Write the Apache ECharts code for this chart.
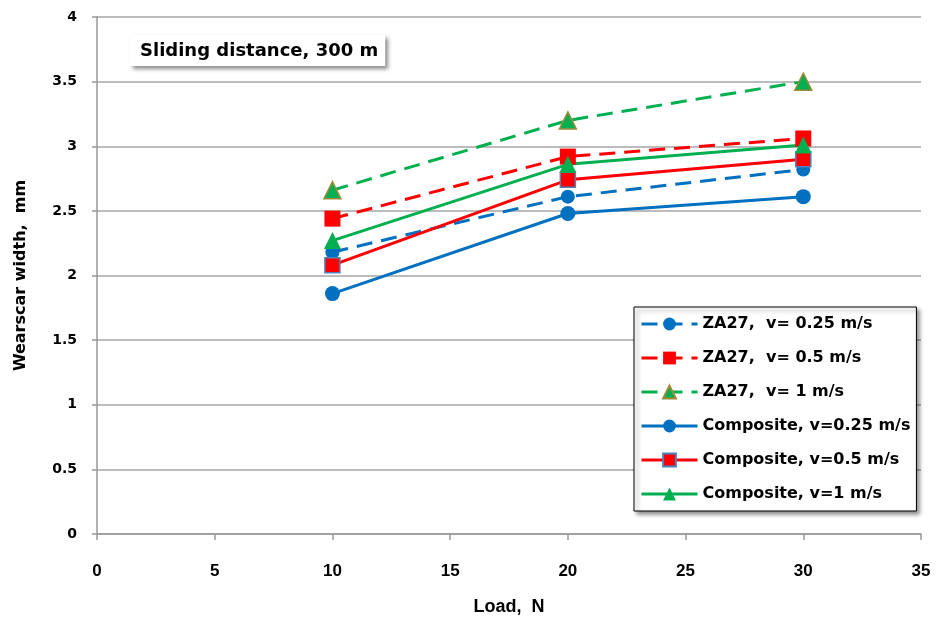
<!DOCTYPE html>
<html><head><meta charset="utf-8">
<script src="https://cdn.jsdelivr.net/npm/echarts@6/dist/echarts.min.js"></script>
<style>html,body{margin:0;padding:0;background:#fff}#c{width:936px;height:625px}</style>
</head><body><div id="c"></div>
<script>
const loads = [10, 20, 30];
const seriesNames = ['ZA27,  v= 0.25 m/s','ZA27,  v= 0.5 m/s','ZA27,  v= 1 m/s','Composite, v=0.25 m/s','Composite, v=0.5 m/s','Composite, v=1 m/s'];
const za27_025 = [2.18, 2.61, 2.82];
const za27_05 = [2.44, 2.92, 3.06];
const za27_1 = [2.66, 3.20, 3.50];
const comp_025 = [1.86, 2.48, 2.61];
const comp_05 = [2.08, 2.74, 2.90];
const comp_1 = [2.27, 2.86, 3.01];
const xTicks = [0,5,10,15,20,25,30,35];
const yTicks = [0,0.5,1,1.5,2,2.5,3,3.5,4];

const blue='#0070C0', red='#FF0000', green='#00B050';
function mk(name, vals, color, symbol, size, dashed, border){
  return {
    name, type:'line', data: loads.map((x,i)=>[x, vals[i]]),
    symbol, symbolSize:size,
    lineStyle:{color, width:3, type: dashed ? [16,9] : 'solid'},
    itemStyle:{color, borderColor: border||color, borderWidth: border?1.5:0},
    emphasis:{disabled:true}, animation:false
  };
}
const chart = echarts.init(document.getElementById('c'));
chart.setOption({
  animation:false,
  title:{text:'Sliding distance, 300 m', left:130, top:35,
    padding:[7,7,6,10], backgroundColor:'#fff',
    shadowBlur:4, shadowOffsetX:3, shadowOffsetY:3, shadowColor:'rgba(0,0,0,0.45)',
    textStyle:{fontFamily:'DejaVu Sans, Verdana, sans-serif', fontWeight:'bold', fontSize:18, color:'#000'}},
  grid:{left:97, right:15, top:17, bottom:91},
  legend:{orient:'vertical', left:634, top:307, data:seriesNames,
    itemWidth:56, itemHeight:16, itemGap:18, padding:[9,6,9,6],
    backgroundColor:'#fff', borderColor:'#000', borderWidth:1,
    shadowBlur:4, shadowOffsetX:3, shadowOffsetY:3, shadowColor:'rgba(0,0,0,0.45)',
    lineStyle:{width:3},
    textStyle:{fontFamily:'DejaVu Sans, Verdana, sans-serif', fontWeight:'bold', fontSize:16, color:'#000'}},
  xAxis:{type:'value', min:0, max:35, interval:5,
    name:'Load,  N', nameLocation:'middle', nameGap:64,
    nameTextStyle:{fontFamily:'Liberation Sans Narrow, Arial Narrow, sans-serif', fontWeight:'bold', fontSize:18, color:'#000'},
    axisLine:{lineStyle:{color:'#999', width:1.5}},
    axisTick:{show:true, length:6, lineStyle:{color:'#999', width:1.5}},
    axisLabel:{margin:29, fontFamily:'Liberation Sans Narrow, Arial Narrow, sans-serif', fontWeight:'bold', fontSize:17, color:'#000',
      formatter:v=>xTicks.includes(v)?String(v):''},
    splitLine:{show:false}},
  yAxis:{type:'value', min:0, max:4, interval:0.5,
    name:'Wearscar width,  mm', nameLocation:'middle', nameGap:68,
    nameTextStyle:{fontFamily:'DejaVu Sans, Verdana, sans-serif', fontWeight:'bold', fontSize:16, color:'#000'},
    axisLine:{show:true, lineStyle:{color:'#999', width:1.5}},
    axisTick:{show:true, length:5, lineStyle:{color:'#999', width:1.5}},
    axisLabel:{margin:20, fontFamily:'DejaVu Sans, Verdana, sans-serif', fontWeight:'bold', fontSize:14, color:'#000',
      formatter:v=>yTicks.includes(v)?String(v):''},
    splitLine:{show:true, lineStyle:{color:'#a6a6a6', width:1.5}}},
  series:[
    mk(seriesNames[0], za27_025, blue, 'circle', 14, true),
    mk(seriesNames[1], za27_05, red, 'rect', 16, true),
    mk(seriesNames[2], za27_1, green, 'triangle', 17, true, '#a08a3a'),
    mk(seriesNames[3], comp_025, blue, 'circle', 15, false),
    mk(seriesNames[4], comp_05, red, 'rect', 15, false, '#4f81bd'),
    mk(seriesNames[5], comp_1, green, 'triangle', 17, false)
  ]
});
</script></body></html>
